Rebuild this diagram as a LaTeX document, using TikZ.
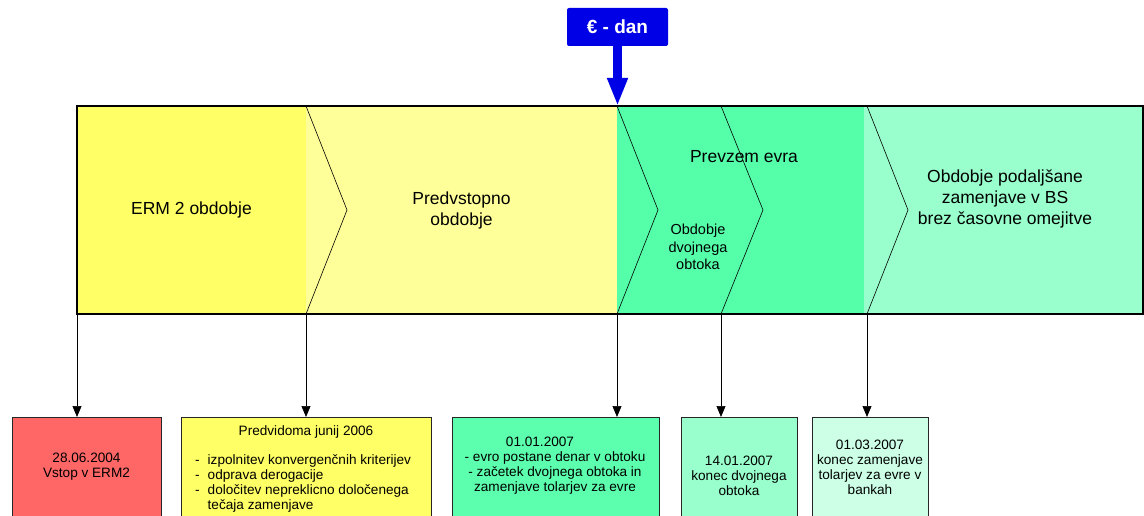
\documentclass[tikz,border=0pt]{standalone}
\usepackage{fontspec}
\setmainfont{Liberation Sans}
\usetikzlibrary{arrows.meta}
\definecolor{ermyellow}{HTML}{FFFF66}
\definecolor{preyellow}{HTML}{FFFF99}
\definecolor{eurogreen}{HTML}{55FFAA}
\definecolor{bsgreen}{HTML}{99FFCC}
\definecolor{eurblue}{HTML}{0000E6}
\definecolor{boxred}{HTML}{FF6666}
\definecolor{boxyellow}{HTML}{FFFF66}
\definecolor{boxgreen}{HTML}{5CFFAD}
\definecolor{boxmint}{HTML}{99FFCC}
\definecolor{boxpale}{HTML}{CCFFE6}
\begin{document}
\begin{tikzpicture}[x=1pt, y=-1pt,
                region/.style={draw=none, inner sep=0pt, outer sep=0pt, minimum height=208, anchor=north west},
                datebox/.style={draw=black!85, line width=0.9pt, inner sep=0pt, outer sep=0pt, minimum height=130, anchor=north west},
                bandtext/.style={align=center, font=\fontsize{17.5}{21}\selectfont},
                boxtext/.style={align=center, inner sep=0pt, font=\fontsize{13.6}{15}\selectfont},
                pointer/.style={line width=0.7pt, -{Triangle[length=11pt, width=9pt]}},
                chevron/.style={line width=0.6pt}]
                \useasboundingbox (0,0) rectangle (1144,516);
                \node[region, fill=ermyellow, minimum width=229] (erm) at (77,106) {};
                \node[region, fill=preyellow, minimum width=311] (pre) at (306,106) {};
                \node[region, fill=eurogreen, minimum width=247] (euro) at (617,106) {};
                \node[region, fill=bsgreen, minimum width=279] (bs) at (864,106) {};
                \draw[line width=1.1pt] (erm.north west) rectangle (bs.south east);
                \draw[chevron] (306,106) -- (347,210) -- (306,314);
                \draw[chevron] (617,106) -- (658,210) -- (617,314);
                \draw[chevron] (721,106) -- (763,210) -- (721,314);
                \draw[chevron] (867,106) -- (908,210) -- (867,314);
                \coordinate (dualstart) at (721,314);
                \coordinate (bsstart) at (867,314);
                \node[bandtext] (ermlabel) at (erm.center) {ERM 2 obdobje};
                \node[bandtext] (prelabel) at (pre.center) {Predvstopno\\obdobje};
                \node[bandtext] (eurolabel) at (744,157) {Prevzem evra};
                \node[align=center, font=\fontsize{14.5}{17.5}\selectfont] (duallabel) at (698,247) {Obdobje\\dvojnega\\obtoka};
                \node[bandtext] (bslabel) at (1005,199) {Obdobje podaljšane\\zamenjave v BS\\brez časovne omejitve};
                \node[fill=eurblue, text=white, rounded corners=2pt, minimum width=101, minimum height=38,
                      font=\fontsize{19}{22}\selectfont\bfseries] (eday) at (617.5,27) {€ - dan};
                \draw[line width=9pt, color=eurblue, -{Triangle[length=28pt, width=19pt]}] (eday.south) -- (eday.south |- euro.north west);
                \node[datebox, fill=boxred, minimum width=149] (erm2004) at (12,417) {};
                \node[datebox, fill=boxyellow, minimum width=250] (june2006) at (181,417) {};
                \node[datebox, fill=boxgreen, minimum width=207] (jan2007) at (452,417) {};
                \node[datebox, fill=boxmint, minimum width=116] (dualend) at (681,417) {};
                \node[datebox, fill=boxpale, minimum width=116] (bankend) at (812,417) {};
                \draw[pointer] (erm.south west) -- (erm.south west |- erm2004.north);
                \draw[pointer] (pre.south west) -- (pre.south west |- june2006.north);
                \draw[pointer] (euro.south west) -- (euro.south west |- jan2007.north);
                \draw[pointer] (dualstart) -- (dualstart |- dualend.north);
                \draw[pointer] (bsstart) -- (bsstart |- bankend.north);
                \node[boxtext] (ermtext) at (86.5,466.5) {28.06.2004\\Vstop v ERM2};
                \node[boxtext] (junetitle) at (306,432) {Predvidoma junij 2006};
                \node[boxtext, align=left, anchor=west] (junelist) at (195,483.5) {-\hspace{8pt}izpolnitev konvergenčnih kriterijev\\
                      -\hspace{8pt}odprava derogacije\\-\hspace{8pt}določitev nepreklicno določenega\\\hspace*{12.5pt}tečaja zamenjave};
                \node[boxtext] (jantext) at (555,465.5) {\hspace*{-30pt}01.01.2007\\- evro postane denar v obtoku\\
                      - začetek dvojnega obtoka in\\zamenjave tolarjev za evre};
                \node[boxtext] (dualtext) at (739,476) {14.01.2007\\konec dvojnega\\obtoka};
                \node[boxtext] (banktext) at (870,467) {01.03.2007\\konec zamenjave\\tolarjev za evre v\\bankah};
            \end{tikzpicture}
\end{document}
